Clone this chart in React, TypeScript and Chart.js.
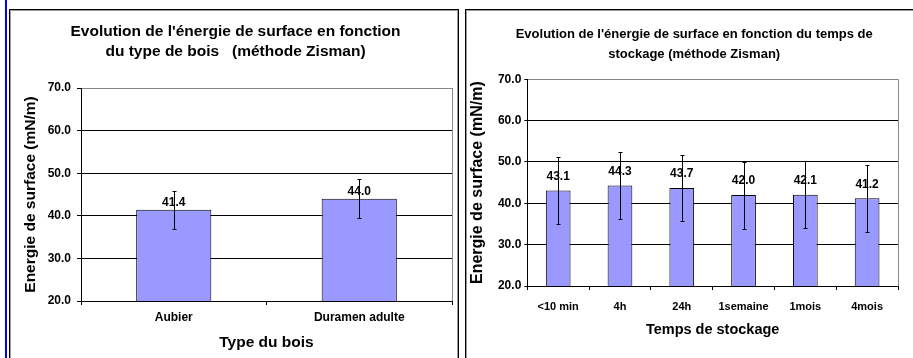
import React, { useEffect, useRef } from 'react';
import { Chart, registerables } from 'chart.js';

Chart.register(...registerables);

const FONT = '"Liberation Sans", Arial, Helvetica, sans-serif';

// ---- data ----
const woodTypes = ['Aubier', 'Duramen adulte'];
const woodEnergy = [41.4, 44.0];
const woodError = [4.5, 4.6];

const storageTimes = ['<10 min', '4h', '24h', '1semaine', '1mois', '4mois'];
const storageEnergy = [43.1, 44.3, 43.7, 42.0, 42.1, 41.2];
const storageError = [8.0, 8.0, 8.0, 8.1, 8.1, 8.1];

const yMin = 20;
const yMax = 70;
const yStep = 10;

const leftTitle = ["Evolution de l'énergie de surface en fonction", 'du type de bois   (méthode Zisman)'];
const rightTitle = ["Evolution de l'énergie de surface en fonction du temps de", 'stockage (méthode Zisman)'];
const yAxisTitle = 'Energie de surface (mN/m)';
const leftXTitle = 'Type du bois';
const rightXTitle = 'Temps de stockage';

const overlayPlugin = {
  id: 'overlay',
  afterDatasetsDraw(chart: any, _args: any, opts: any) {
    const ctx = chart.ctx;
    const meta = chart.getDatasetMeta(0);
    const yScale = chart.scales.y;
    const values = chart.data.datasets[0].data as number[];
    const { top, bottom, right } = chart.chartArea;
    ctx.save();
    // right border of plot area
    ctx.strokeStyle = '#888';
    ctx.lineWidth = 1;
    ctx.beginPath();
    ctx.moveTo(Math.round(right) + 0.5, top);
    ctx.lineTo(Math.round(right) + 0.5, bottom);
    ctx.stroke();

    meta.data.forEach((bar: any, i: number) => {
      const v = values[i];
      // value label
      ctx.fillStyle = '#000';
      ctx.font = `bold ${opts.labelSize}px ${FONT}`;
      ctx.textAlign = 'center';
      ctx.textBaseline = 'middle';
      ctx.fillText(v.toFixed(1), bar.x, bar.y - opts.labelOffset);
    });
    meta.data.forEach((bar: any, i: number) => {
      const v = values[i];
      const e = opts.errors[i];
      const x = Math.round(bar.x) + 0.5;
      const yt = Math.round(yScale.getPixelForValue(v + e)) + 0.5;
      const yb = Math.round(yScale.getPixelForValue(v - e)) + 0.5;
      ctx.strokeStyle = '#000';
      ctx.lineWidth = 1;
      ctx.beginPath();
      ctx.moveTo(x, yt);
      ctx.lineTo(x, yb);
      ctx.moveTo(x - 2, yt);
      ctx.lineTo(x + 2, yt);
      ctx.moveTo(x - 2, yb);
      ctx.lineTo(x + 2, yb);
      ctx.stroke();
    });
    ctx.restore();
  },
};

function makeConfig(p: any): any {
  return {
    type: 'bar',
    data: {
      labels: p.labels,
      datasets: [
        {
          data: p.values,
          backgroundColor: '#9999FF',
          borderColor: '#000',
          borderWidth: 1,
          barPercentage: p.barPct,
          categoryPercentage: 1,
        },
      ],
    },
    options: {
      responsive: false,
      animation: false,
      devicePixelRatio: 1,
      layout: { padding: p.layoutPad },
      plugins: {
        legend: { display: false },
        tooltip: { enabled: false },
        title: {
          display: true,
          text: p.title,
          color: '#000',
          font: { family: FONT, size: p.titleSize, weight: 'bold', lineHeight: '20px' },
          padding: { top: p.titlePadTop, bottom: p.titlePadBottom },
        },
        overlay: { errors: p.errors, labelOffset: p.labelOffset, labelSize: 12 },
      },
      scales: {
        x: {
          grid: { display: true, drawOnChartArea: false, drawTicks: true, tickLength: 4, color: '#000', offset: true },
          border: { display: true, color: '#000', width: 1 },
          ticks: {
            color: '#000',
            font: { family: FONT, size: p.xTickSize, weight: 'bold', lineHeight: p.xTickLH },
            padding: p.xTickPad,
            maxRotation: 0,
            autoSkip: false,
          },
          title: {
            display: true,
            text: p.xTitle,
            color: '#000',
            font: { family: FONT, size: p.xTitleSize, weight: 'bold', lineHeight: p.xTitleLH },
            padding: { top: 0, bottom: p.xTitlePad },
          },
          afterFit: (s: any) => {
            s.height = p.xHeight;
          },
        },
        y: {
          min: yMin,
          max: yMax,
          ticks: {
            stepSize: yStep,
            color: '#000',
            font: { family: FONT, size: 12, weight: 'bold' },
            padding: p.yTickPad,
            callback: (v: any) => Number(v).toFixed(1),
          },
          grid: {
            color: (c: any) => (c.tick && c.tick.value === yMax ? '#888' : '#000'),
            tickColor: '#000',
            tickLength: p.yTickLen,
            drawTicks: true,
          },
          border: { display: true, color: '#000', width: 1 },
          title: {
            display: true,
            text: yAxisTitle,
            color: '#000',
            font: { family: FONT, size: p.yTitleSize, weight: 'bold', lineHeight: '18px' },
            padding: { top: p.yTitlePad, bottom: 0 },
          },
          afterFit: (s: any) => {
            s.width = p.yWidth;
          },
        },
      },
    },
    plugins: [overlayPlugin],
  };
}

const leftParams = {
  labels: woodTypes,
  values: woodEnergy,
  errors: woodError,
  barPct: 0.405,
  layoutPad: { left: 8, right: 5, top: 0, bottom: 0 },
  title: leftTitle,
  titleSize: 15.5,
  titlePadTop: 10.6,
  titlePadBottom: 26.4,
  labelOffset: 7,
  xTickSize: 12,
  xTickLH: '14px',
  xTickPad: 6,
  xTitle: leftXTitle,
  xTitleSize: 15.5,
  xTitleLH: '18px',
  xTitlePad: 6.7,
  xHeight: 57,
  yTickPad: 6,
  yTickLen: 4,
  yTitleSize: 15.5,
  yTitlePad: 2.7,
  yWidth: 62,
};

const rightParams = {
  labels: storageTimes,
  values: storageEnergy,
  errors: storageError,
  barPct: 0.4,
  layoutPad: { left: 23.4, right: 15, top: 0, bottom: 0 },
  title: rightTitle,
  titleSize: 13,
  titlePadTop: 13,
  titlePadBottom: 15.3,
  labelOffset: 14,
  xTickSize: 11,
  xTickLH: '13px',
  xTickPad: 10.2,
  xTitle: rightXTitle,
  xTitleSize: 14.5,
  xTitleLH: '17px',
  xTitlePad: 19.5,
  xHeight: 72,
  yTickPad: 3,
  yTickLen: 3,
  yTitleSize: 16,
  yTitlePad: -21.4,
  yWidth: 36.9,
};

function BarChart({ params, left, top, width, height }: any) {
  const ref = useRef<HTMLCanvasElement | null>(null);
  useEffect(() => {
    const chart = new Chart(ref.current as HTMLCanvasElement, makeConfig(params));
    return () => chart.destroy();
  }, []);
  return (
    <canvas
      ref={ref}
      width={width}
      height={height}
      style={{ position: 'absolute', left, top, width, height, display: 'block' }}
    />
  );
}

export default function App() {
  const box = (left: number, width: number): React.CSSProperties => ({
    position: 'absolute',
    left,
    top: 9,
    width,
    height: 370,
    border: '1px solid #000',
    boxShadow: 'inset 1px 1px 0 #999, inset -1px 0 0 #999',
    boxSizing: 'border-box',
    background: '#fff',
  });
  return (
    <div
      style={{
        position: 'fixed',
        left: 0,
        top: 0,
        width: 913,
        height: 358,
        overflow: 'hidden',
        background: '#fff',
      }}
    >
      <div style={{ position: 'absolute', left: 5, top: 0, width: 2, height: 358, background: '#0000FF' }} />
      <div style={box(9, 450)} />
      <div style={box(465, 460)} />
      <BarChart params={leftParams} left={11} top={11} width={446} height={347} />
      <BarChart params={rightParams} left={467} top={11} width={446} height={347} />
    </div>
  );
}
